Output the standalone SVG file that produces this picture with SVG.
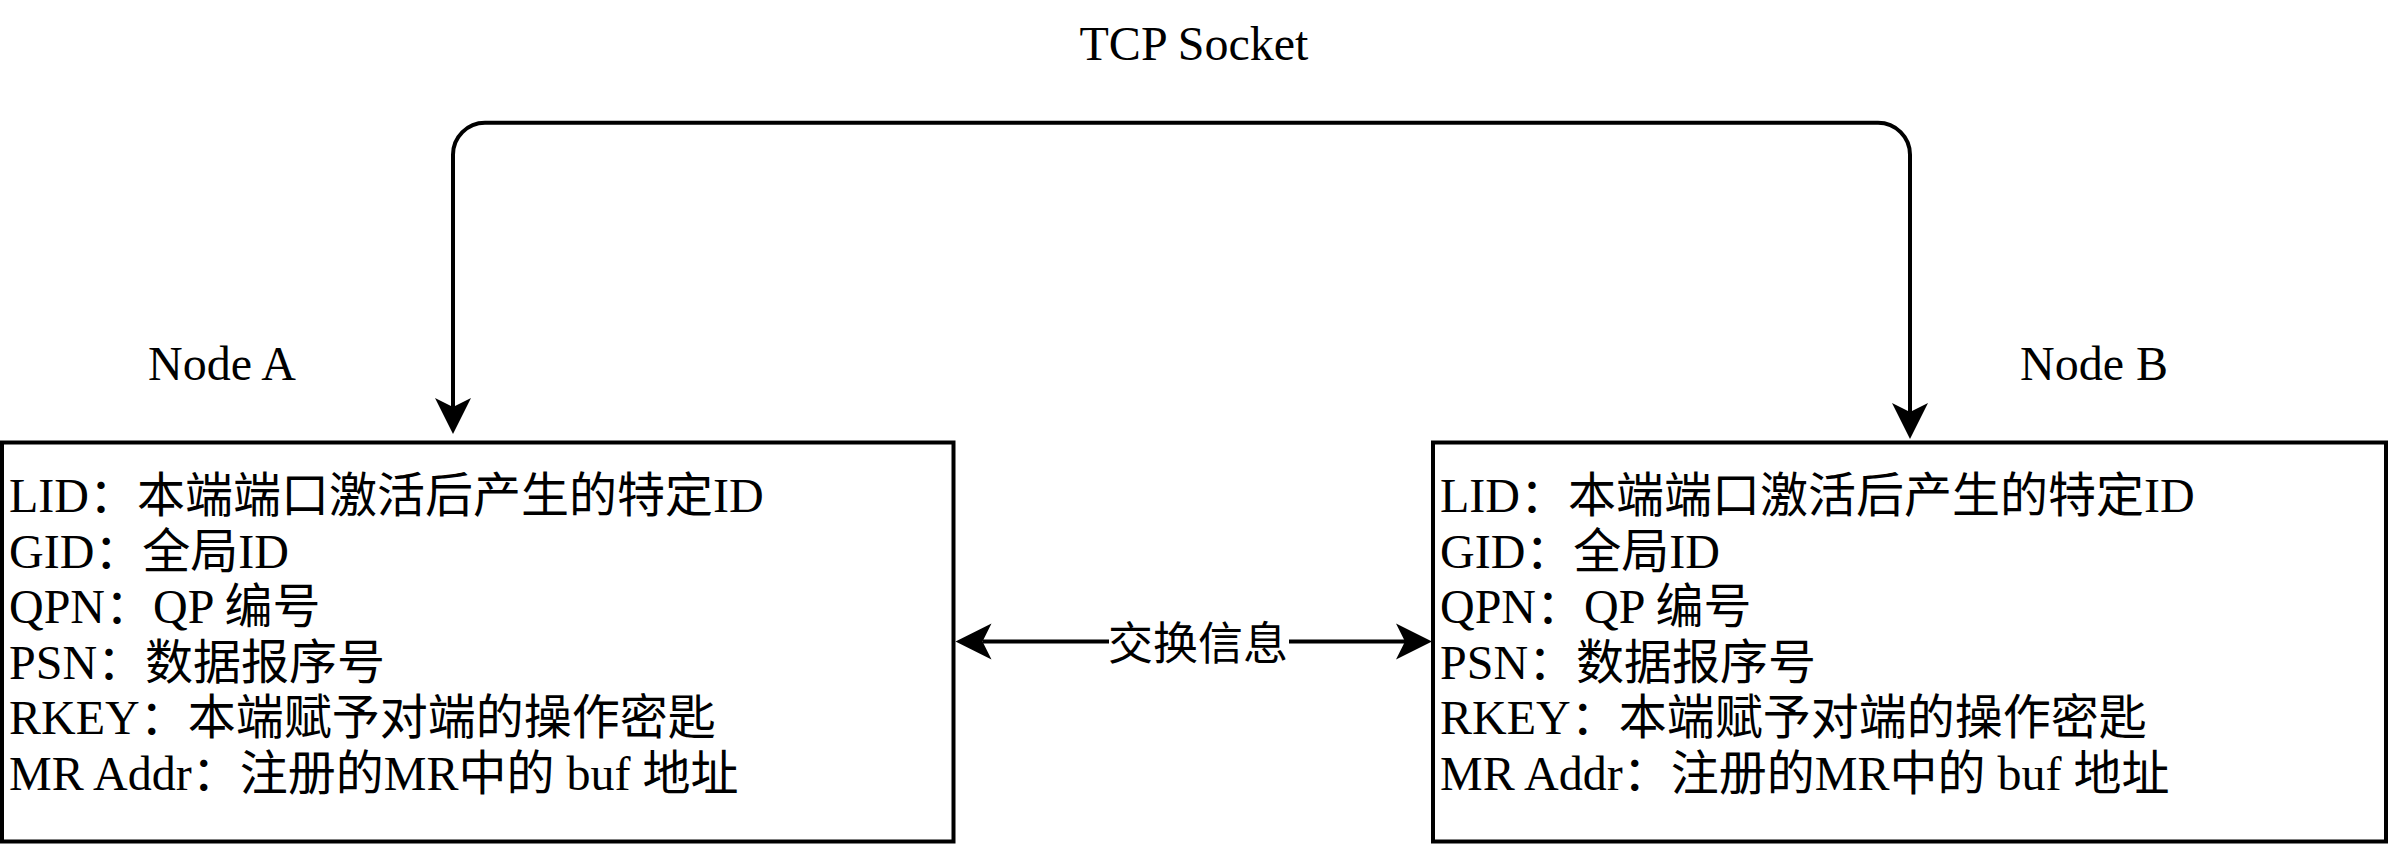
<svg xmlns="http://www.w3.org/2000/svg" width="2388" height="844" viewBox="0 0 2388 844">
<style>
text { font-family: 'Liberation Serif', 'Noto Sans CJK SC', serif; font-size: 48px; fill: #000; }
.box { fill: #fff; stroke: #000; stroke-width: 4; }
.edge { fill: none; stroke: #000; stroke-width: 4; }
.mid { text-anchor: middle; }
.lbl { font-size: 45px; }
</style>
<defs>
<marker id="arr" markerUnits="userSpaceOnUse" markerWidth="40" markerHeight="40" refX="9" refY="0" viewBox="0 -20 40 40" orient="auto-start-reverse" overflow="visible">
<path d="M36,0 L0,-18 L9,0 L0,18 Z" fill="#000"/>
</marker>
</defs>
<rect width="2388" height="844" fill="#fff"/>
<g id="tcp-label"><text class="mid" x="1194" y="60">TCP Socket</text></g>
<g id="node-a-label"><text class="mid" x="222" y="380">Node A</text></g>
<g id="node-b-label"><text class="mid" x="2094" y="380">Node B</text></g>
<g id="node-a">
<rect class="box" x="2" y="442.5" width="951.5" height="399"/>
<text x="9" y="512">LID：本端端口激活后产生的特定ID</text>
<text x="9" y="567.5">GID：全局ID</text>
<text x="9" y="623">QPN：QP 编号</text>
<text x="9" y="678.5">PSN：数据报序号</text>
<text x="9" y="734">RKEY：本端赋予对端的操作密匙</text>
<text x="9" y="789.5">MR Addr：注册的MR中的 buf 地址</text>
</g>
<g id="node-b">
<rect class="box" x="1433" y="442.5" width="953" height="399"/>
<text x="1440" y="512">LID：本端端口激活后产生的特定ID</text>
<text x="1440" y="567.5">GID：全局ID</text>
<text x="1440" y="623">QPN：QP 编号</text>
<text x="1440" y="678.5">PSN：数据报序号</text>
<text x="1440" y="734">RKEY：本端赋予对端的操作密匙</text>
<text x="1440" y="789.5">MR Addr：注册的MR中的 buf 地址</text>
</g>
<g id="connectors">
<path class="edge" d="M453,407 V154.7 A32,32 0 0 1 485,122.7 H1878 A32,32 0 0 1 1910,154.7 V412" marker-start="url(#arr)" marker-end="url(#arr)"/>
<path class="edge" d="M982.5,641.5 H1405" marker-start="url(#arr)" marker-end="url(#arr)"/>
<rect x="1109" y="620" width="180" height="46" fill="#fff"/>
<text class="mid lbl" x="1198" y="660">交换信息</text>
</g>
</svg>
